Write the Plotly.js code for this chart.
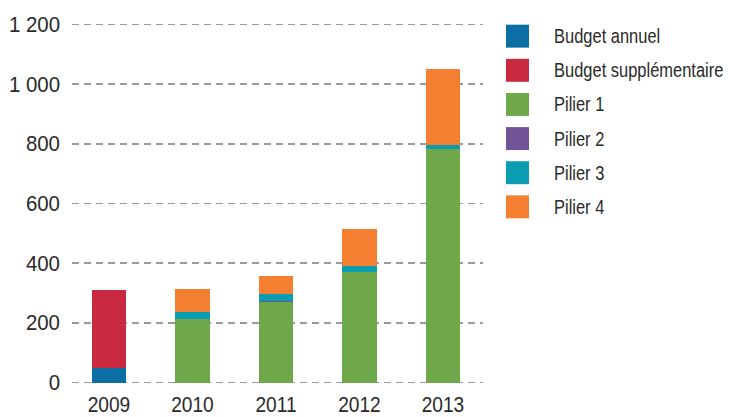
<!DOCTYPE html>
<html>
<head>
<meta charset="utf-8">
<script src="https://cdn.plot.ly/plotly-3.0.1.min.js"></script>
<style>html,body{margin:0;padding:0;background:#fff;}#chart{width:729px;height:417px;}</style>
</head>
<body>
<div id="chart"></div>
<script>
const years = ['2009', '2010', '2011', '2012', '2013'];
const seriesNames = ['Budget annuel', 'Budget supplémentaire', 'Pilier 1', 'Pilier 2', 'Pilier 3', 'Pilier 4'];
const budgetAnnuel = [50, null, null, null, null];
const budgetSupplementaire = [260, null, null, null, null];
const pilier1 = [null, 212, 271, 370, 783];
const pilier2 = [null, 2, 2, 2, 1];
const pilier3 = [null, 23, 24, 20, 12];
const pilier4 = [null, 78, 61, 124, 254];
const seriesColors = ['#0b6fa5', '#c92a40', '#6fa84b', '#6f5396', '#0a9db1', '#f47f31'];
const yTicks = [0, 200, 400, 600, 800, 1000, 1200];

const seriesValues = [budgetAnnuel, budgetSupplementaire, pilier1, pilier2, pilier3, pilier4];
const FONT = '"Liberation Sans", "DejaVu Sans", sans-serif';
const TXT = '#2a2a2a';

const traces = seriesValues.map((vals, i) => ({
  type: 'bar',
  x: years,
  y: vals,
  name: seriesNames[i],
  marker: {color: seriesColors[i], line: {width: 0}},
  hoverinfo: 'x+y+name',
  showlegend: false
}));

// plot area in pixels
const L = 72, R = 483, T = 22.8, B = 384.5;
const W = 729, H = 417;
const px2x = p => (p - L) / (R - L);
const px2y = p => (B - p) / (B - T);

const shapes = [];
const annotations = [];
seriesNames.forEach((nm, i) => {
  const cy = 36 + i * 34.2;
  shapes.push({
    type: 'rect', xref: 'paper', yref: 'paper',
    x0: px2x(506), x1: px2x(529), y0: px2y(cy + 11.5), y1: px2y(cy - 11.5),
    fillcolor: seriesColors[i], line: {width: 0}
  });
  annotations.push({
    xref: 'paper', yref: 'paper', x: px2x(553), y: px2y(cy),
    xanchor: 'left', yanchor: 'middle', align: 'left', showarrow: false,
    borderpad: 0,
    text: nm, font: {family: FONT, size: 19.5, color: TXT}
  });
});

const layout = {
  width: W, height: H,
  margin: {l: L, r: W - R, t: T, b: H - B, pad: 0},
  paper_bgcolor: '#ffffff', plot_bgcolor: '#ffffff',
  barmode: 'stack',
  bargap: 0.59,
  separators: '. ',
  font: {family: FONT, size: 20, color: TXT},
  xaxis: {
    type: 'category',
    range: [-0.443, 4.48],
    showgrid: false, zeroline: false, showline: false,
    ticks: '', ticklabelstandoff: 5,
    tickfont: {family: FONT, size: 21.5, color: TXT}
  },
  yaxis: {
    range: [-5, 1205],
    tickvals: yTicks,
    tickformat: ',d',
    showgrid: true, gridcolor: '#9a9a9a', gridwidth: 1.6, griddash: '7px,5px',
    zeroline: false, showline: false, ticks: '',
    ticklabelstandoff: 11,
    tickfont: {family: FONT, size: 21.5, color: TXT}
  },
  shapes: shapes,
  annotations: annotations,
  showlegend: false
};

function condense(selector, factor) {
  document.querySelectorAll(selector).forEach(t => {
    const len = t.getComputedTextLength();
    if (len > 0) {
      t.setAttribute('textLength', (len * factor).toFixed(2));
      t.setAttribute('lengthAdjust', 'spacingAndGlyphs');
    }
  });
}

function condenseLeft(selector, factor) {
  document.querySelectorAll(selector).forEach(t => {
    const bb = t.getBBox();
    const x0 = bb.x;
    const prev = t.getAttribute('transform') || '';
    t.setAttribute('transform',
      prev + ' translate(' + x0.toFixed(2) + ',0) scale(' + factor + ',1) translate(' + (-x0).toFixed(2) + ',0)');
  });
  document.querySelectorAll('#chart .annotation-text-g rect.bg').forEach(r => {
    const w = parseFloat(r.getAttribute('width')) || 0;
    r.setAttribute('width', (w * factor).toFixed(2));
  });
}

Plotly.newPlot('chart', traces, layout, {displayModeBar: false, staticPlot: true}).then(() => {
  condense('#chart .xtick text', 0.89);
  condense('#chart .ytick text', 0.95);
  condenseLeft('#chart .annotation-text-g text', 0.845);
});
</script>
</body>
</html>
